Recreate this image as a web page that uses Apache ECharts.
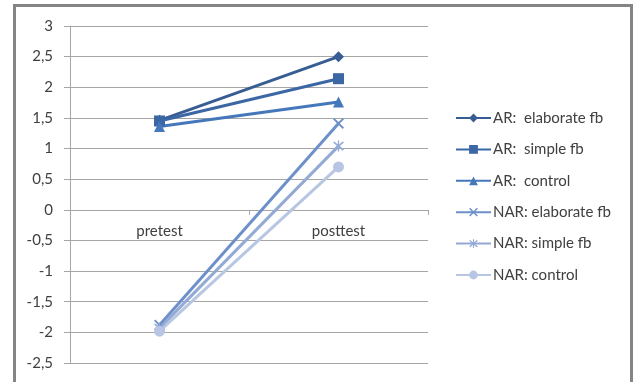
<!DOCTYPE html>
<html>
<head>
<meta charset="utf-8">
<script src="https://cdn.jsdelivr.net/npm/echarts@6/dist/echarts.min.js"></script>
<style>
  html, body { margin: 0; padding: 0; background: #ffffff; }
  #chart { width: 637px; height: 382px; }
</style>
</head>
<body>
<div id="chart"></div>
<script>
// Test phases on the horizontal axis
const phases = ['pretest', 'posttest'];

// Group means per condition
const arElaborate = [1.46, 2.5];
const arSimple = [1.45, 2.14];
const arControl = [1.36, 1.76];
const narElaborate = [-1.88, 1.41];
const narSimple = [-1.93, 1.04];
const narControl = [-1.98, 0.7];

// Value-axis range and step
const yMin = -2.5;
const yMax = 3;
const yStep = 0.5;

const seriesNames = [
  'AR:  elaborate fb', 'AR:  simple fb', 'AR:  control',
  'NAR: elaborate fb', 'NAR: simple fb', 'NAR: control'
];
const seriesData = [arElaborate, arSimple, arControl, narElaborate, narSimple, narControl];

const colors = ['#375d93', '#3b67a5', '#4577bb', '#6d90c9', '#93aad5', '#b7c6e2'];

const crossPath = 'path://M0,1.2 L1.2,0 L5,3.8 L8.8,0 L10,1.2 L6.2,5 L10,8.8 L8.8,10 L5,6.2 L1.2,10 L0,8.8 L3.8,5 Z';
const starPath = 'path://M0,1.2 L1.2,0 L5,3.8 L8.8,0 L10,1.2 L6.2,5 L10,8.8 L8.8,10 L5,6.2 L1.2,10 L0,8.8 L3.8,5 Z M4.4,-1 L5.6,-1 L5.6,11 L4.4,11 Z';
const symbols = ['diamond', 'rect', 'triangle', crossPath, starPath, 'circle'];
const symbolSizes = [11, 11, 11, 11, 11, 11];

const chart = echarts.init(document.getElementById('chart'), null, { renderer: 'canvas' });

const font = 'Lato, "Open Sans", sans-serif';

chart.setOption({
  animation: false,
  color: colors,
  graphic: [{
    type: 'rect',
    shape: { x: 14.5, y: 5.5, width: 617, height: 400 },
    style: { fill: 'none', stroke: '#858585', lineWidth: 3 },
    silent: true,
    z: 100
  }],
  grid: { left: 70, right: 209, top: 26, bottom: 19, containLabel: false, outerBoundsMode: 'none' },
  legend: {
    orient: 'vertical',
    left: 455,
    top: 110,
    padding: 0,
    itemWidth: 35,
    itemHeight: 11,
    itemGap: 15.4,
    textStyle: { fontFamily: font, fontSize: 15, color: '#404040', lineHeight: 16, padding: [0, 0, 0, -3] },
    data: seriesNames
  },
  xAxis: {
    type: 'category',
    data: phases,
    boundaryGap: true,
    axisLine: { onZero: false, lineStyle: { color: '#a6a6a6', width: 1 } },
    axisTick: { show: true, length: 5, lineStyle: { color: '#a6a6a6' } },
    axisLabel: { fontFamily: font, fontSize: 15, color: '#404040', margin: 14 },
    splitLine: { show: false }
  },
  yAxis: {
    type: 'value',
    min: yMin,
    max: yMax,
    interval: yStep,
    axisLine: { show: true, lineStyle: { color: '#a6a6a6', width: 1 } },
    axisTick: { show: true, length: 6, lineStyle: { color: '#a6a6a6' } },
    axisLabel: {
      fontFamily: font, fontSize: 15, color: '#404040', margin: 17,
      formatter: v => String(Math.round(v * 10) / 10).replace('.', ',')
    },
    splitLine: { show: true, lineStyle: { color: '#a6a6a6', width: 1 } }
  },
  series: seriesNames.map((name, i) => ({
    name,
    type: 'line',
    data: seriesData[i],
    symbol: symbols[i],
    symbolSize: symbolSizes[i],
    showAllSymbol: true,
    lineStyle: { width: 3, color: colors[i] },
    itemStyle: { color: colors[i] },
    emphasis: { disabled: true },
    z: 2
  }))
});

// Move the category axis up so that it crosses the value axis at zero
const zeroPx = chart.convertToPixel({ yAxisIndex: 0 }, 0);
const bottomPx = chart.convertToPixel({ yAxisIndex: 0 }, yMin);
chart.setOption({ xAxis: { offset: zeroPx - bottomPx } });
</script>
</body>
</html>
